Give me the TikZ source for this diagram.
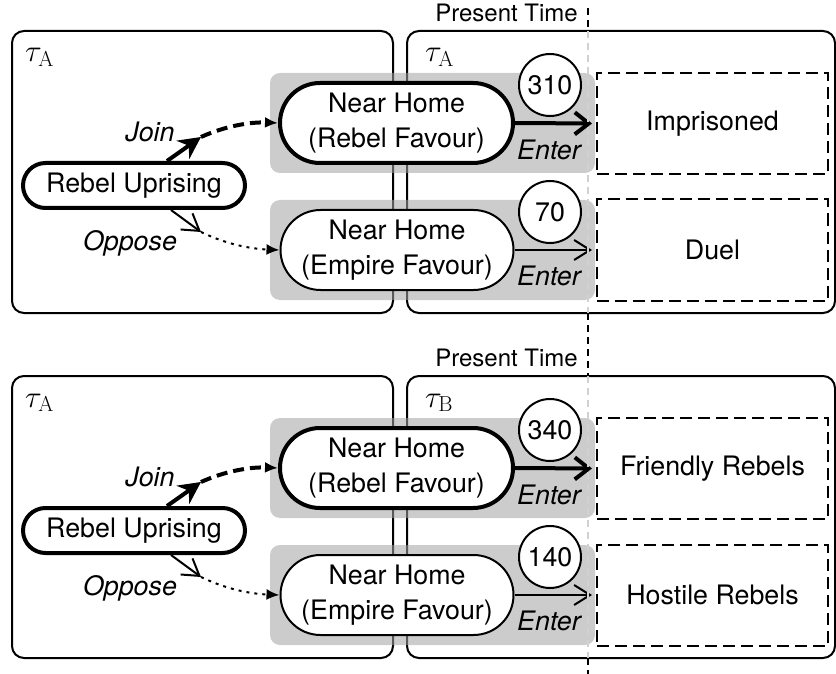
\documentclass[tikz,border=0pt]{standalone}
\usepackage{fix-cm}
\usepackage[no-math]{fontspec}
\setmainfont{TeX Gyre Heros}
\usetikzlibrary{arrows.meta}

\newcommand\nodefont{\fontsize{26.8}{35}\selectfont}
\newcommand\smallfont{\fontsize{24}{28}\selectfont}
\newcommand\taufont{\fontsize{31}{35}\selectfont}

\tikzset{
  panelbox/.style={draw, line width=2pt, rounded corners=12pt},
  hilite/.style={fill=black!36, fill opacity=0.55, rounded corners=10pt},
  stadium/.style={draw, fill=white, rounded corners=40pt, minimum width=233pt,
    minimum height=80pt, align=center, font=\nodefont, inner sep=0pt},
  pill/.style={draw, fill=white, line width=4pt, rounded corners=22.5pt,
    minimum width=222pt, minimum height=45pt, font=\nodefont, inner sep=0pt},
  heavy/.style={line width=4pt},
  light/.style={line width=2pt},
  countc/.style={draw, circle, fill=white, line width=2pt, minimum size=62pt,
    inner sep=0pt, font=\nodefont},
  outcome/.style={draw, dash pattern=on 12pt off 6pt, line width=2pt,
    minimum width=231pt, minimum height=101pt, font=\nodefont},
  edgelab/.style={font=\nodefont\itshape, inner sep=0pt},
  taulab/.style={font=\taufont, anchor=base west, inner sep=0pt},
  timeline/.style={line width=2pt, dash pattern=on 7pt off 5pt},
  joinhead/.style={-{Stealth[length=22pt,width=22pt,inset=7pt]}},
  thickhead/.style={-{Straight Barb[length=14pt,width=22pt]}},
  thinhead/.style={-{Straight Barb[length=16pt,width=20pt]}},
  smallhead/.style={-{Latex[length=13pt,width=11pt]}},
}

% One panel: #1 vertical offset, #2 subscript of the right tau,
% #3/#4 the two counts, #5/#6 the two outcomes, #7 prefix for node names
\newcommand\rebelpanel[7]{%
\begin{scope}[yshift=-#1pt]
  \draw[panelbox] (12,-31) rectangle (393,-313);
  \draw[panelbox] (407,-31) rectangle (835,-313);
  \node[taulab] at (25,-62) {$\tau_{\mathrm{A}}$};
  \node[taulab] at (425,-62) {$\tau_{\mathrm{#2}}$};
  \fill[hilite] (270,-73) rectangle (595,-173);
  \fill[hilite] (270,-200) rectangle (595,-300);
  \node[stadium, line width=4pt] (#7nr) at (396.5,-123) {Near Home\\(Rebel Favour)};
  \node[stadium, line width=2pt] (#7ne) at (397,-250) {Near Home\\(Empire Favour)};
  \node[countc] (#7c1) at (550,-85) {#3};
  \node[countc] (#7c2) at (550,-212) {#4};
  \node[outcome] (#7o1) at (712.5,-123.5) {#5};
  \node[outcome] (#7o2) at (712.5,-250) {#6};
  \node[pill] (#7ru) at (134,-185.5) {Rebel Uprising};
  \coordinate (#7j) at (201,-137);
  \coordinate (#7p) at (201,-232);
  \draw[heavy, joinhead] ([xshift=33pt]#7ru.north) -- (#7j);
  \draw[heavy, smallhead, dash pattern=on 11pt off 6pt]
    (#7j) .. controls (230,-124) and (255,-122) .. (#7nr.west);
  \draw[light, thinhead] ([xshift=37pt]#7ru.south) -- (#7p);
  \draw[light, smallhead, dash pattern=on 3pt off 5pt]
    (#7p) .. controls (230,-246) and (255,-249) .. (#7ne.west);
  \node[edgelab] at (150,-132) {Join};
  \node[edgelab] at (130,-243) {Oppose};
  \draw[heavy, thickhead, shorten >=4pt] (#7nr.east) -- (#7o1.west);
  \draw[light, thinhead, shorten >=4pt] (#7ne.east) -- (#7o2.west);
  \node[edgelab] at (549,-150) {Enter};
  \node[edgelab] at (549,-276) {Enter};
  \node[font=\smallfont, anchor=east, inner sep=0pt] at (578,-13) {Present Time};
\end{scope}}

\begin{document}
\begin{tikzpicture}[x=1pt,y=1pt]
  \useasboundingbox (0,0) rectangle (836,-674);
  \rebelpanel{0}{A}{310}{70}{Imprisoned}{Duel}{u}
  \rebelpanel{345}{B}{340}{140}{Friendly Rebels}{Hostile Rebels}{l}
  % present-time marker: dark outside the panels, pale across them
  \draw[timeline] (588,-8) -- (588,-31);
  \draw[timeline, black!18] (588,-31) -- (588,-313);
  \draw[timeline] (588,-313) -- (588,-376);
  \draw[timeline, black!18] (588,-376) -- (588,-658);
  \draw[timeline] (588,-658) -- (588,-674);
\end{tikzpicture}
\end{document}
